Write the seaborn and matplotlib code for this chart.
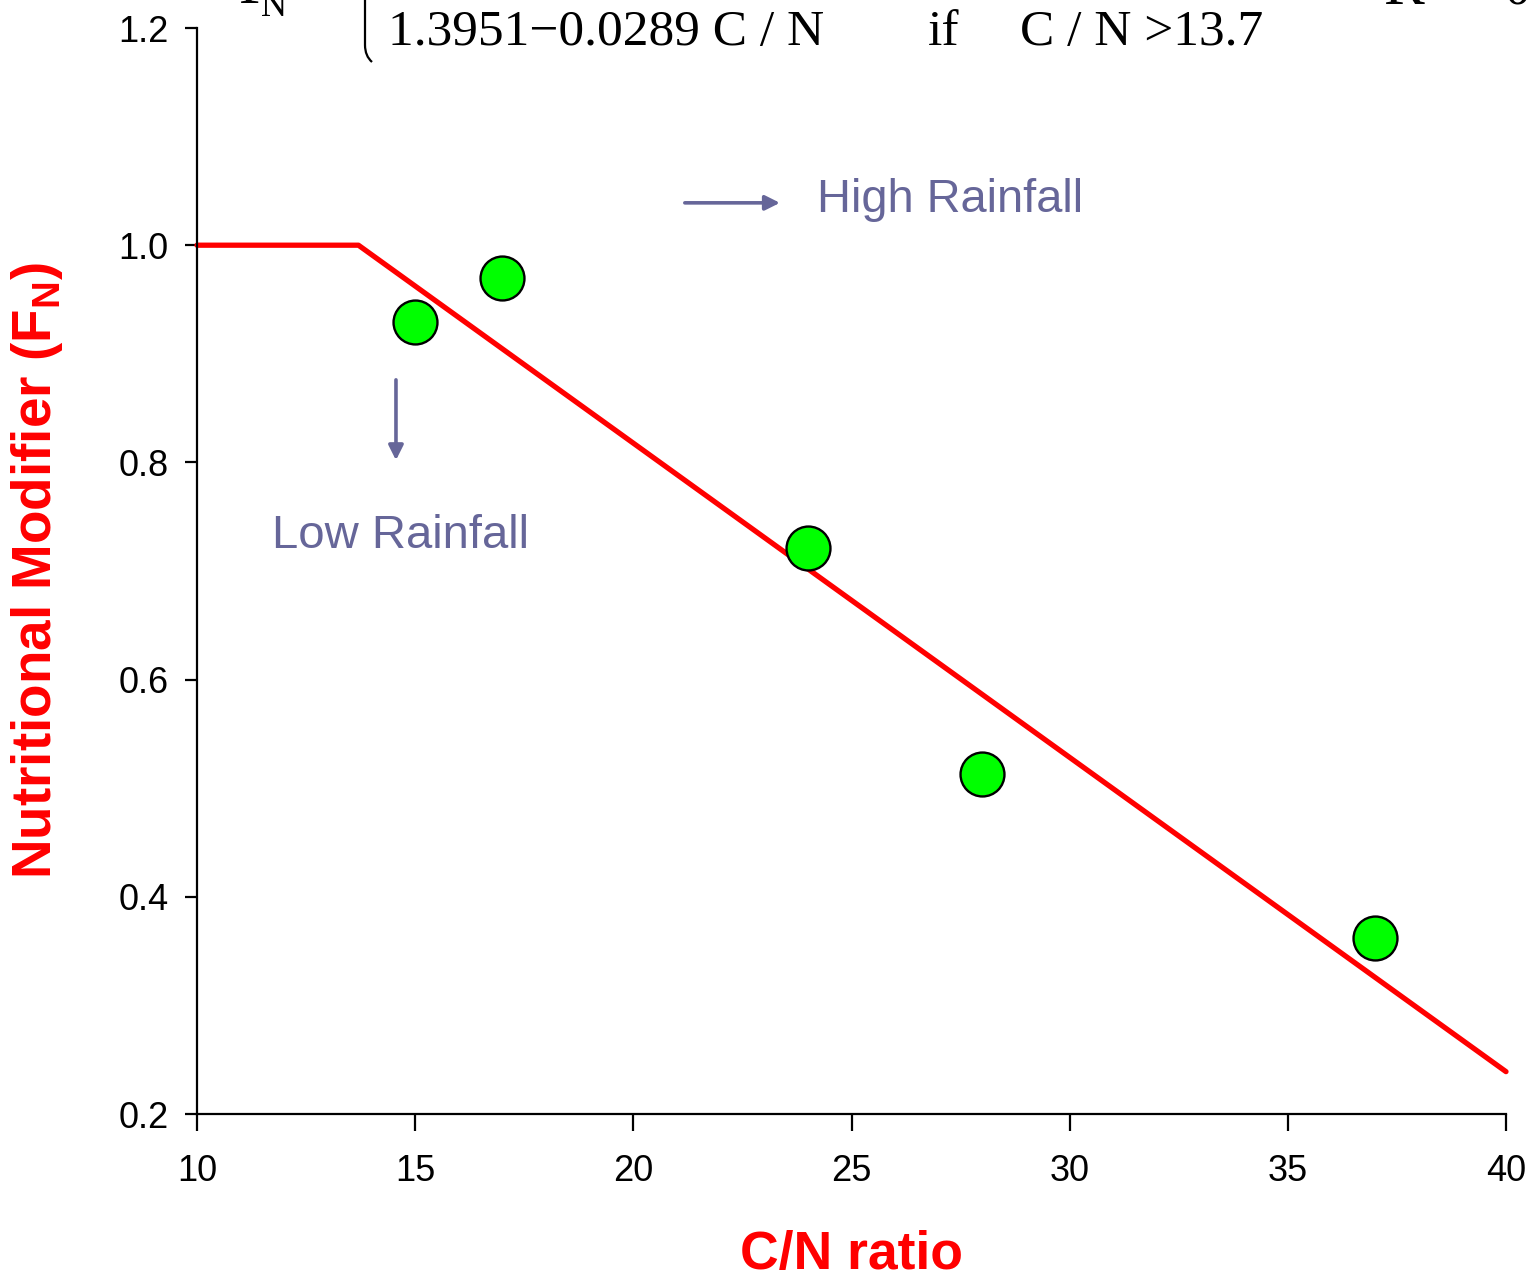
import matplotlib
matplotlib.use("Agg")
import matplotlib.pyplot as plt
import seaborn as sns
import numpy as np
import pandas as pd
from matplotlib.path import Path
from matplotlib.patches import PathPatch

# ---- data ----
cn_ratio = [15, 17, 24, 28, 37]
fn_values = [0.929, 0.970, 0.721, 0.513, 0.362]
fit_cn = [10, 13.7, 40]
fit_fn = [1.0, 1.0, 0.239]
x_ticks = [10, 15, 20, 25, 30, 35, 40]
y_ticks = [0.2, 0.4, 0.6, 0.8, 1.0, 1.2]

sns.set_theme(style="white")
plt.rcParams['font.family'] = ['Liberation Sans', 'DejaVu Sans']
plt.rcParams['mathtext.fontset'] = 'custom'
plt.rcParams['mathtext.rm'] = 'Liberation Sans'
plt.rcParams['mathtext.bf'] = 'Liberation Sans:bold'

W, H = 1531, 1280
fig = plt.figure(figsize=(W / 100, H / 100), dpi=100)
ax = fig.add_axes([197 / W, 1 - 1114 / H, 1309 / W, 1086 / H])

sns.lineplot(x=fit_cn, y=fit_fn, ax=ax, color='#ff0000', linewidth=3.8,
             estimator=None, sort=False, clip_on=False, zorder=2)
sns.scatterplot(x=cn_ratio, y=fn_values, ax=ax, s=1000, color='#00ff00',
                edgecolor='black', linewidth=1.7, zorder=3, clip_on=False)

ax.set_xlim(10, 40)
ax.set_ylim(0.2, 1.2)
ax.set_xticks(x_ticks)
ax.set_xticklabels([str(t) for t in x_ticks])
ax.set_yticks(y_ticks)
ax.set_yticklabels([f"{t:.1f}" for t in y_ticks])
for s in ['top', 'right']:
    ax.spines[s].set_visible(False)
for s in ['left', 'bottom']:
    ax.spines[s].set_color('black')
    ax.spines[s].set_linewidth(1.6)
ax.tick_params(axis='x', direction='out', length=12, width=1.6, color='black',
               labelsize=26, pad=17, labelcolor='black', bottom=True)
ax.tick_params(axis='y', direction='out', length=8.6, width=1.6, color='black',
               labelsize=26, pad=12, labelcolor='black', left=True)

ax.set_xlabel("C/N ratio", color='#ff0000', fontsize=38.5, fontweight='bold')
ax.xaxis.label.set_va('top')
ax.xaxis.set_label_coords(0.5, (1114 - 1230) / 1086)
ax.set_ylabel(r"Nutritional Modifier (F$_{\mathbf{N}}$)", color='#ff0000',
              fontsize=39.5, fontweight='bold')
ax.yaxis.label.set_va('center')
ax.yaxis.set_label_coords((37 - 197) / 1309, (1114 - 570) / 1086)

ann_color = '#666699'
ax.annotate("", xy=(23.36, 1.039), xytext=(21.18, 1.039),
            arrowprops=dict(arrowstyle='-|>', color=ann_color, lw=2.6,
                            mutation_scale=22, shrinkA=0, shrinkB=0))
ax.text(24.21, 1.031, "High Rainfall", color=ann_color, fontsize=33.8,
        va='baseline', ha='left')
ax.annotate("", xy=(14.56, 0.802), xytext=(14.56, 0.876),
            arrowprops=dict(arrowstyle='-|>', color=ann_color, lw=2.6,
                            mutation_scale=22, shrinkA=0, shrinkB=0))
ax.text(11.72, 0.7212, "Low Rainfall", color=ann_color, fontsize=34,
        va='baseline', ha='left')

# ---- equation at the top (partially cut by the figure edge) ----
serif = ['Liberation Serif', 'DejaVu Serif']
def ftext(xpx, ypx, s, size, **kw):
    fig.text(xpx / W, 1 - ypx / H, s, fontsize=size, family=serif,
             color='black', va='baseline', ha='left', **kw)

ftext(238, 3, "F", 44)
ftext(261, 16, "N", 26)
ftext(388, 45, "1.3951\u22120.0289 C / N", 37)
ftext(928, 45, "if", 37)
ftext(1020, 45, "C / N >13.7", 37)
ftext(1383, 4, "R", 44)
ftext(1505, 3, "0.9", 37)

# lower hook of the large curly brace
verts = [(372, -40), (365, -30), (365, -15), (365, 0), (365, 30), (365, 45),
         (365, 56), (372, 62)]
codes = [Path.MOVETO, Path.CURVE3, Path.CURVE3, Path.LINETO, Path.LINETO,
         Path.LINETO, Path.CURVE3, Path.CURVE3]
vp = [(x, H - y) for x, y in verts]
fig.add_artist(PathPatch(Path(vp, codes), transform=None, fill=False,
                         lw=1.6, edgecolor='black', clip_on=False))

fig.savefig("out.png", dpi=100, facecolor='white')
